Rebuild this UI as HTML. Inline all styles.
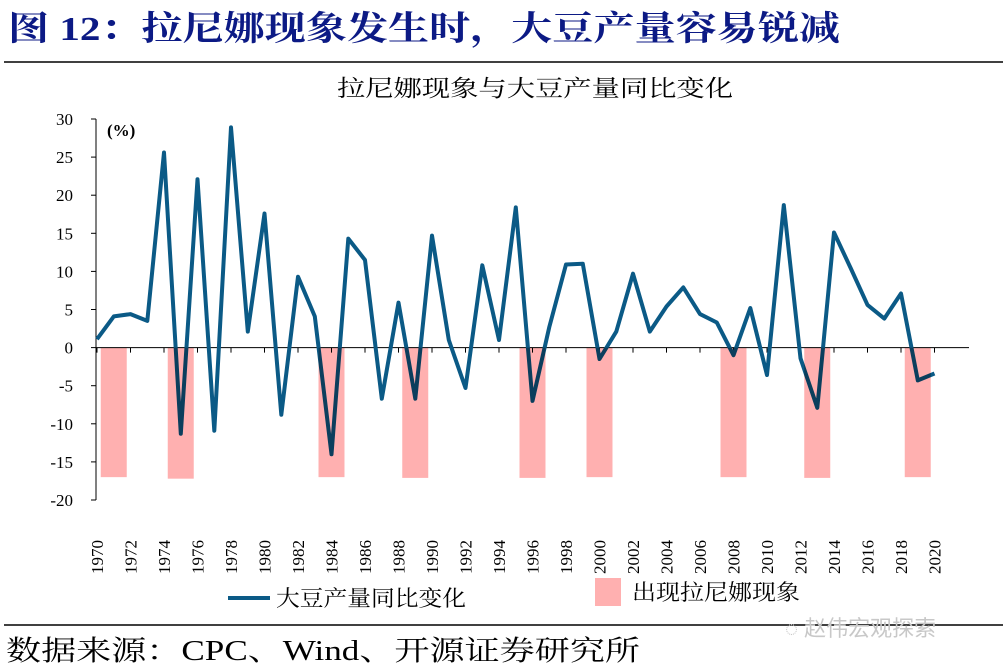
<!DOCTYPE html>
<html><head><meta charset="utf-8"><style>
body{margin:0;background:#fff;width:1007px;height:672px;overflow:hidden}
svg{display:block}
</style></head><body>
<svg width="1007" height="672" viewBox="0 0 1007 672">
<text x="8" y="40" textLength="832" lengthAdjust="spacingAndGlyphs" font-family="'Liberation Serif','Noto Serif CJK SC',serif" font-weight="bold" font-size="34" fill="#0c1a85">图 12：拉尼娜现象发生时，大豆产量容易锐减</text>
<line x1="4" y1="62" x2="1003" y2="62" stroke="#000" stroke-width="1.5"/>
<text x="337" y="96" textLength="396" lengthAdjust="spacingAndGlyphs" font-family="'Liberation Serif','Noto Serif CJK SC',serif" font-size="23" fill="#000">拉尼娜现象与大豆产量同比变化</text>
<text x="107" y="136" font-family="'Liberation Serif',serif" font-size="17" font-weight="bold" fill="#000">(%)</text>
<g id="plot"></g>
<line x1="228" y1="598" x2="270" y2="598" stroke="#0b5a86" stroke-width="4"/>
<text x="276" y="606" textLength="190" lengthAdjust="spacingAndGlyphs" font-family="'Liberation Serif','Noto Serif CJK SC',serif" font-size="22" fill="#000">大豆产量同比变化</text>
<rect x="595" y="578" width="26" height="28" fill="#ffb0b0"/>
<text x="632" y="600" textLength="168" lengthAdjust="spacingAndGlyphs" font-family="'Liberation Serif','Noto Serif CJK SC',serif" font-size="22" fill="#000">出现拉尼娜现象</text>
<line x1="4" y1="625" x2="1003" y2="625" stroke="#000" stroke-width="1.5"/>
<text x="6" y="660" textLength="634" lengthAdjust="spacingAndGlyphs" font-family="'Liberation Serif','Noto Serif CJK SC',serif" font-size="28" fill="#000">数据来源：CPC、Wind、开源证券研究所</text>
<text x="785" y="636" font-family="'Liberation Sans','Noto Sans CJK SC',sans-serif" font-size="22" fill="#c8c8c8">◌ 赵伟宏观探索</text>
</svg>
<script>
const years = [];
for (let y = 1970; y <= 2020; y++) years.push(y);
const soyYoY = [1.1,4.1,4.4,3.5,25.6,-11.3,22.1,-10.9,28.9,2.1,17.6,-8.8,9.3,4.1,-14.0,14.3,11.5,-6.7,5.9,-6.7,14.7,1.0,-5.3,10.8,1.0,18.4,-7.0,2.7,10.9,11.0,-1.5,2.1,9.7,2.1,5.4,7.9,4.4,3.3,-1.0,5.2,-3.6,18.7,-1.4,-7.9,15.1,10.4,5.6,3.8,7.1,-4.3,-3.4];
const laNinaYears = [1971,1975,1984,1989,1996,2000,2008,2013,2019];
const laNinaValue = [-17,-17.2,-17,-17.1,-17.1,-17,-17,-17.1,-17];
const yTicks = [30,25,20,15,10,5,0,-5,-10,-15,-20];
const xTickLabels = years.filter(y => (y - 1970) % 2 === 0);

const NS = 'http://www.w3.org/2000/svg';
const g = document.getElementById('plot');
const xS = y => 97 + (y - 1970) * 16.75;
const yS = v => 347.6 - v * 7.62;
function mk(tag, attrs){const e=document.createElementNS(NS,tag);for(const k in attrs)e.setAttribute(k,attrs[k]);g.appendChild(e);return e;}

let ax = mk('line',{x1:96,y1:yS(30),x2:96,y2:yS(-20),stroke:'#000','stroke-width':1});


yTicks.forEach(v=>{
  const t = mk('line',{x1:91,y1:yS(v),x2:96,y2:yS(v),stroke:'#000'});
  
  
  const l = mk('text',{x:73,y:yS(v)+6,'text-anchor':'end','font-family':"'Liberation Serif',serif",'font-size':17});
  l.textContent = v;
  
  
});
const xa = mk('line',{x1:96,y1:yS(0),x2:969,y2:yS(0),stroke:'#000'});


xTickLabels.forEach(y=>{
  const t = mk('line',{x1:xS(y),y1:yS(0),x2:xS(y),y2:yS(0)+5,stroke:'#000'});
  
  
  const l = mk('text',{x:0,y:0,'font-family':"'Liberation Serif',serif",'font-size':17,transform:`translate(${xS(y)+6},574) rotate(-90)`});
  l.textContent = y;
  
  
});
const pts = soyYoY.map((v,i)=>xS(years[i]).toFixed(1)+','+yS(v).toFixed(1)).join(' ');
const pl = mk('polyline',{points:pts,fill:'none',stroke:'#0b5a86','stroke-width':4,'stroke-linejoin':'round'});


laNinaYears.forEach((y,i)=>{
  const v = laNinaValue[i];
  const r = mk('rect',{x:xS(y)-13,y:yS(0),width:26,height:yS(v)-yS(0),fill:'#ffb0b0',style:'mix-blend-mode:multiply'});
  
  
});
</script>
</body></html>
